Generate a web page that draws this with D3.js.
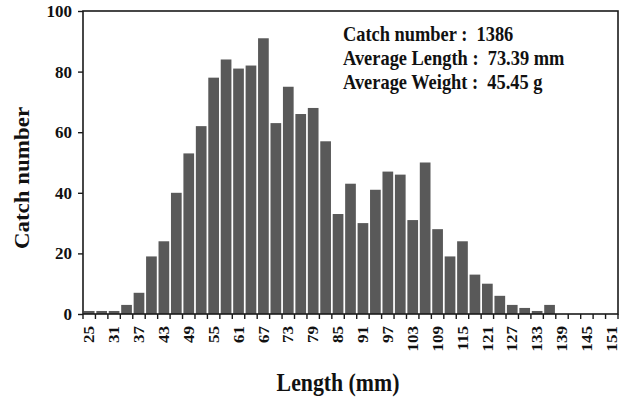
<!DOCTYPE html>
<html>
<head>
<meta charset="utf-8">
<script src="https://cdn.jsdelivr.net/npm/d3@7"></script>
<style>
  html, body { margin: 0; padding: 0; background: #fff; }
  svg { display: block; font-family: "Liberation Serif", "Times New Roman", serif; font-weight: bold; }
</style>
</head>
<body>
<svg id="chart" width="631" height="399"></svg>
<script>
// Length classes (mm, 3 mm bins) and catch counts per class
const lengths = [25, 28, 31, 34, 37, 40, 43, 46, 49, 52, 55, 58, 61, 64, 67, 70, 73, 76, 79, 82,
                 85, 88, 91, 94, 97, 100, 103, 106, 109, 112, 115, 118, 121, 124, 127, 130, 133,
                 136, 139, 142, 145, 148, 151];
const counts  = [1, 1, 1, 3, 7, 19, 24, 40, 53, 62, 78, 84, 81, 82, 91, 63, 75, 66, 68, 57,
                 33, 43, 30, 41, 47, 46, 31, 50, 28, 19, 24, 13, 10, 6, 3, 2, 1,
                 3, 0, 0, 0, 0, 0];
const xTickLabels = [25, 31, 37, 43, 49, 55, 61, 67, 73, 79, 85, 91, 97, 103, 109, 115, 121, 127, 133, 139, 145, 151];
const yTicks = [0, 20, 40, 60, 80, 100];
const summary = ["Catch number :  1386", "Average Length :  73.39 mm", "Average Weight :  45.45 g"];

const svg = d3.select("#chart");
const m = { left: 83, right: 618, top: 11, bottom: 314 };
const stretch = 1.12; // type is set slightly taller than wide

const x = d3.scaleBand().domain(lengths).range([m.left, m.right]).paddingInner(0.14).paddingOuter(0.07);
const y = d3.scaleLinear().domain([0, 100]).range([m.bottom, m.top]);

// bars
svg.append("g").selectAll("rect").data(lengths).join("rect")
  .attr("x", d => x(d))
  .attr("width", x.bandwidth())
  .attr("y", (d, i) => y(counts[i]))
  .attr("height", (d, i) => y(0) - y(counts[i]))
  .attr("fill", "#595959");

// frame
svg.append("rect")
  .attr("x", m.left).attr("y", m.top)
  .attr("width", m.right - m.left).attr("height", m.bottom - m.top)
  .attr("fill", "none").attr("stroke", "#1a1a1a").attr("stroke-width", 1.6);

// y axis
const yAxis = svg.append("g").attr("transform", `translate(${m.left},0)`)
  .call(d3.axisLeft(y).tickValues(yTicks).tickSize(5).tickPadding(6));
yAxis.select(".domain").remove();
yAxis.selectAll("line").attr("stroke", "#1a1a1a").attr("stroke-width", 1.4);
yAxis.selectAll("text")
  .attr("font-size", 17).attr("font-family", "Liberation Serif").attr("font-weight", "bold").attr("fill", "#111");

// x axis: ticks at class boundaries, labels on every other class
const step = x.step();
const boundaries = d3.range(lengths.length + 1).map(i => m.left + i * step);
svg.append("g").selectAll("line").data(boundaries).join("line")
  .attr("x1", d => d).attr("x2", d => d)
  .attr("y1", m.bottom).attr("y2", m.bottom + 5)
  .attr("stroke", "#1a1a1a").attr("stroke-width", 1.4);

svg.append("g").selectAll("text").data(xTickLabels).join("text")
  .attr("transform", d => `translate(${x(d) + x.bandwidth() / 2 + 5.2},${m.bottom + 12}) rotate(-90) scale(${stretch},1)`)
  .attr("text-anchor", "end")
  .attr("font-size", 15.2)
  .attr("fill", "#111")
  .text(d => d);

// axis titles
svg.append("text")
  .attr("transform", `translate(28.5,178) rotate(-90) scale(${stretch},1)`)
  .attr("text-anchor", "middle")
  .attr("font-size", 20.5)
  .attr("fill", "#111")
  .text("Catch number");

svg.append("text")
  .attr("transform", `translate(338,391) scale(1,${stretch})`)
  .attr("text-anchor", "middle")
  .attr("font-size", 21.8)
  .attr("fill", "#111")
  .text("Length (mm)");

// summary statistics
svg.append("g").selectAll("text").data(summary).join("text")
  .attr("transform", (d, i) => `translate(343,${40.5 + i * 24.2}) scale(1,${stretch + 0.02})`)
  .attr("font-size", 18.4)
  .attr("fill", "#111")
  .attr("xml:space", "preserve")
  .style("white-space", "pre")
  .text(d => d);
</script>
</body>
</html>
